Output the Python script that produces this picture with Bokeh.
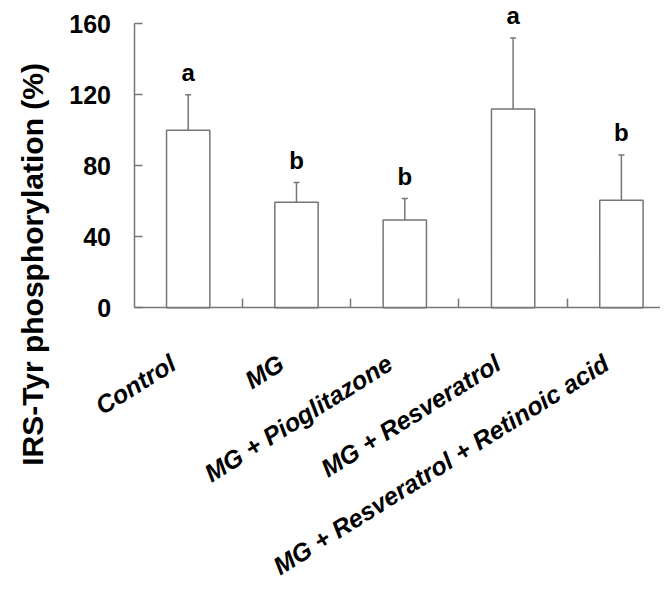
import math
from bokeh.plotting import figure
from bokeh.models import Range1d, FixedTicker, ColumnDataSource, Whisker, TeeHead, LabelSet, Label
from bokeh.core.properties import value
from bokeh.embed import file_html
from bokeh.resources import INLINE

groups = ["Control", "MG", "MG + Pioglitazone", "MG + Resveratrol",
          "MG + Resveratrol + Retinoic acid"]
means = [100, 59.5, 49.5, 112, 60.5]
errors = [20, 11, 12, 40, 25.5]
letters = ["a", "b", "b", "a", "b"]
y_ticks = [0, 40, 80, 120, 160]
y_title = "IRS-Tyr phosphorylation (%)"

GREY = "#767676"
FONT = "Liberation Sans"

n = len(groups)
centers = [i + 0.5 for i in range(n)]
uppers = [m + e for m, e in zip(means, errors)]
label_pos = [round(c - 0.14, 2) for c in centers]

p = figure(width=660, height=587, x_range=Range1d(-1.233, 4.861), y_range=Range1d(-157.6, 173.1),
           output_backend="svg", toolbar_location=None,
           min_border_left=0, min_border_top=0, min_border_right=0, min_border_bottom=0)
p.outline_line_color = None
p.xgrid.grid_line_color = None
p.ygrid.grid_line_color = None

p.vbar(x=centers, width=0.4, top=means, bottom=0, fill_color="white",
       line_color=GREY, line_width=1.5)

src = ColumnDataSource(dict(base=centers, lower=means, upper=uppers, letter=letters))
p.add_layout(Whisker(base="base", lower="lower", upper="upper", source=src, dimension="height",
                     lower_head=None,
                     upper_head=TeeHead(size=6, line_color=GREY, line_width=1.5),
                     line_color=GREY, line_width=1.5))
p.add_layout(LabelSet(x="base", y="upper", text="letter", source=src, y_offset=14,
                      text_align="center", text_baseline="alphabetic",
                      text_font=value(FONT), text_font_size="24px", text_font_style="bold",
                      text_color="black"))

xa = p.xaxis[0]
xa.fixed_location = 0
xa.bounds = (0, 4.861)
xa.ticker = FixedTicker(ticks=label_pos, minor_ticks=[1, 2, 3, 4])
xa.major_label_overrides = {pos: g for pos, g in zip(label_pos, groups)}
xa.major_tick_line_color = None
xa.major_tick_in = 0
xa.major_tick_out = 0
xa.minor_tick_in = 9
xa.minor_tick_out = 0
xa.minor_tick_line_color = GREY
xa.minor_tick_line_width = 1.5
xa.axis_line_color = GREY
xa.axis_line_width = 1.5
xa.major_label_orientation = 0.56
xa.major_label_standoff = 53
xa.major_label_text_font = FONT
xa.major_label_text_font_size = "25px"
xa.major_label_text_font_style = "bold italic"
xa.major_label_text_color = "black"

ya = p.yaxis[0]
ya.fixed_location = 0
ya.ticker = FixedTicker(ticks=y_ticks)
ya.bounds = (0, 160)
ya.major_tick_in = 8
ya.major_tick_out = 0
ya.major_tick_line_color = GREY
ya.major_tick_line_width = 1.5
ya.minor_tick_line_color = None
ya.axis_line_color = GREY
ya.axis_line_width = 1.5
ya.major_label_standoff = 23
ya.major_label_text_font = FONT
ya.major_label_text_font_size = "25px"
ya.major_label_text_font_style = "bold"
ya.major_label_text_color = "black"

p.add_layout(Label(x=-0.94, y=24.4, text=y_title, angle=math.pi / 2,
                   text_align="center", text_baseline="alphabetic",
                   text_font=FONT, text_font_size="30px", text_font_style="bold",
                   text_color="black"))

open("out.html", "w").write(file_html(p, INLINE))
